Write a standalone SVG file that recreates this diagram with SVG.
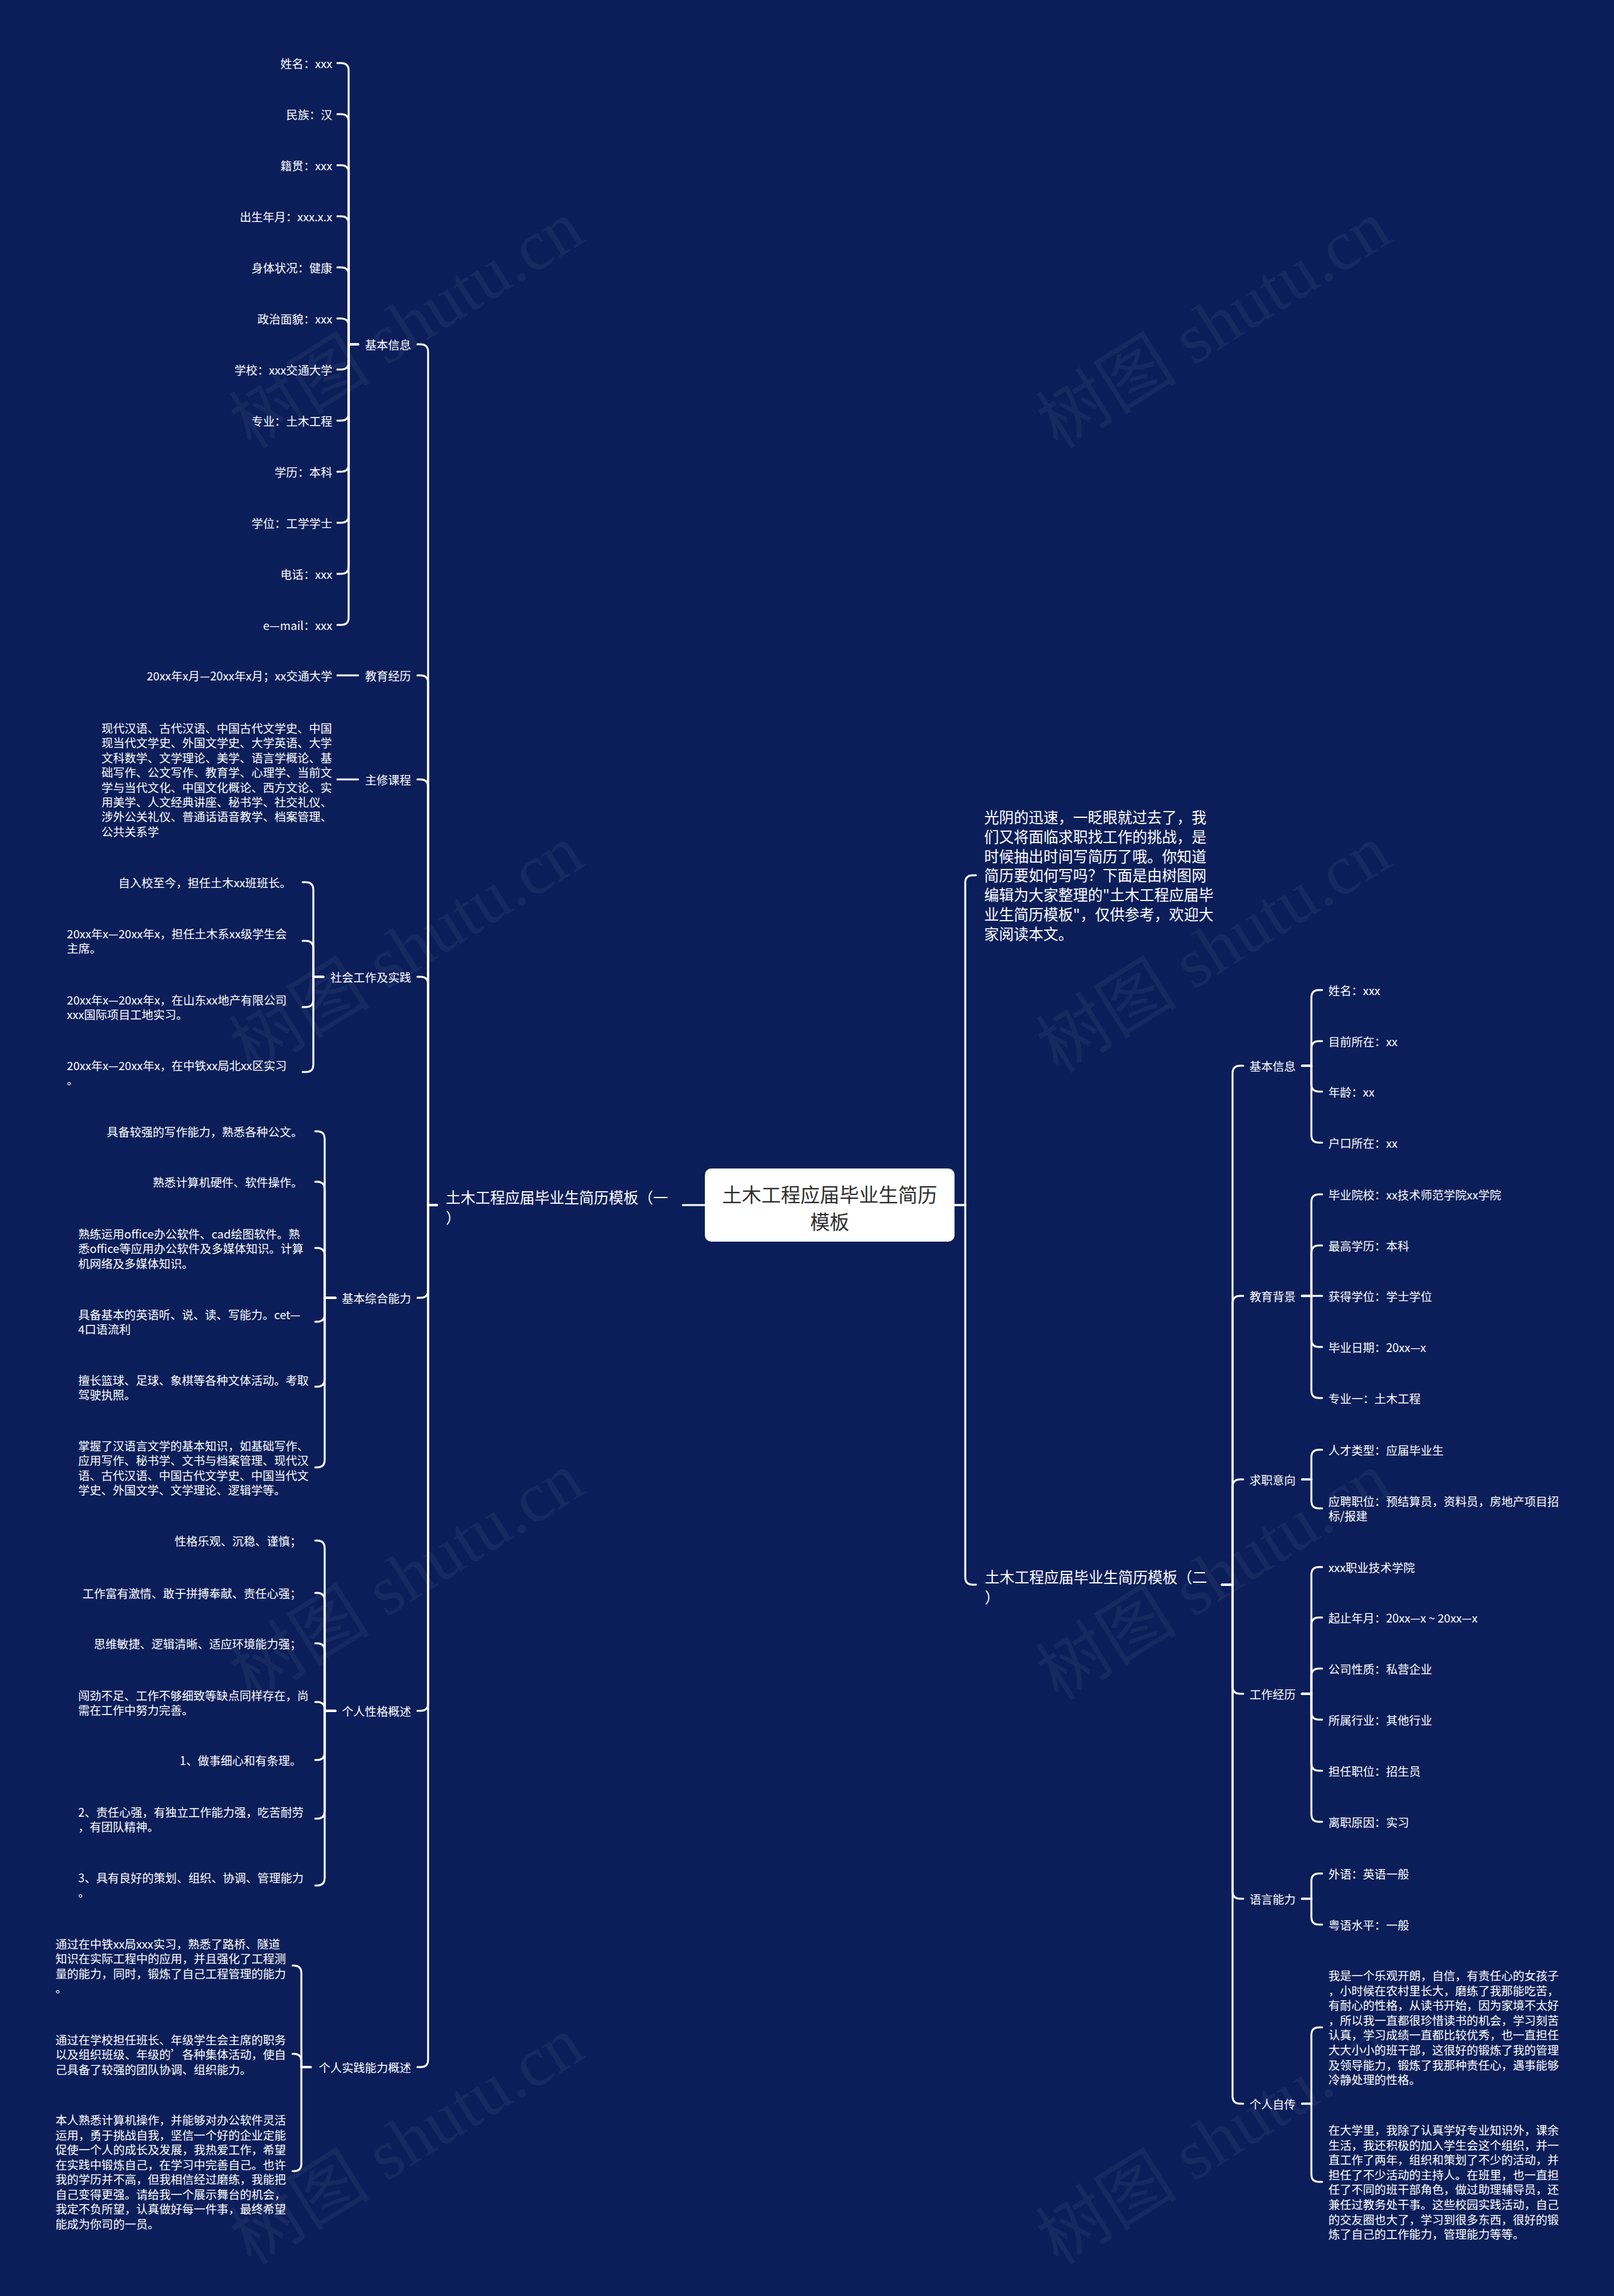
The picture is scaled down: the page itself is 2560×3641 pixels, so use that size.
<svg xmlns="http://www.w3.org/2000/svg" width="2560" height="3641" viewBox="0 0 2560 3641">
<style>
.t{font-family:"Noto Sans CJK SC","Noto Sans",sans-serif;font-size:18.3px;fill:#ffffff;dominant-baseline:central}
.e{text-anchor:end}
.b{font-size:23.5px}
.m{font-size:31px;fill:#2e2e2e;text-anchor:middle}
.c{fill:none;stroke:#ffffff;stroke-width:3;stroke-linecap:round;stroke-linejoin:round}
.wm{font-family:"Liberation Serif","Noto Sans CJK SC",serif;font-size:112px;fill:#ffffff;fill-opacity:0.05;text-anchor:middle;dominant-baseline:central}
</style>
<rect x="0" y="0" width="2560" height="3641" fill="#0b1e59"/>
<g id="watermarks">
<text class="wm" transform="translate(645,515) rotate(-32)">树图 shutu.cn</text>
<text class="wm" transform="translate(1925,515) rotate(-32)">树图 shutu.cn</text>
<text class="wm" transform="translate(645,1505) rotate(-32)">树图 shutu.cn</text>
<text class="wm" transform="translate(1925,1505) rotate(-32)">树图 shutu.cn</text>
<text class="wm" transform="translate(645,2500) rotate(-32)">树图 shutu.cn</text>
<text class="wm" transform="translate(1925,2500) rotate(-32)">树图 shutu.cn</text>
<text class="wm" transform="translate(645,3395) rotate(-32)">树图 shutu.cn</text>
<text class="wm" transform="translate(1925,3395) rotate(-32)">树图 shutu.cn</text>
</g>
<g id="connectors">
<path class="c" d="M1118 1911 H1083"/>
<path class="c" d="M693 1911 H679 V558 Q679 546 667 546 H662"/>
<path class="c" d="M693 1911 H679 V1083 Q679 1071 667 1071 H662"/>
<path class="c" d="M693 1911 H679 V1248 Q679 1236 667 1236 H662"/>
<path class="c" d="M693 1911 H679 V1561 Q679 1549 667 1549 H662"/>
<path class="c" d="M693 1911 H679 V2046 Q679 2058 667 2058 H662"/>
<path class="c" d="M693 1911 H679 V2701 Q679 2713 667 2713 H662"/>
<path class="c" d="M693 1911 H679 V3266 Q679 3278 667 3278 H662"/>
<path class="c" d="M568 546 H553 V112 Q553 100 541 100 H535"/>
<path class="c" d="M568 546 H553 V193 Q553 181 541 181 H535"/>
<path class="c" d="M568 546 H553 V274 Q553 262 541 262 H535"/>
<path class="c" d="M568 546 H553 V355 Q553 343 541 343 H535"/>
<path class="c" d="M568 546 H553 V436 Q553 424 541 424 H535"/>
<path class="c" d="M568 546 H553 V517 Q553 505 541 505 H535"/>
<path class="c" d="M568 546 H553 V574 Q553 586 541 586 H535"/>
<path class="c" d="M568 546 H553 V655 Q553 667 541 667 H535"/>
<path class="c" d="M568 546 H553 V736 Q553 748 541 748 H535"/>
<path class="c" d="M568 546 H553 V817 Q553 829 541 829 H535"/>
<path class="c" d="M568 546 H553 V898 Q553 910 541 910 H535"/>
<path class="c" d="M568 546 H553 V979 Q553 991 541 991 H535"/>
<path class="c" d="M568 1071 H535"/>
<path class="c" d="M568 1236 H535"/>
<path class="c" d="M513 1549 H497 V1411 Q497 1399 485 1399 H480"/>
<path class="c" d="M513 1549 H497 V1504 Q497 1492 485 1492 H480"/>
<path class="c" d="M513 1549 H497 V1585 Q497 1597 485 1597 H480"/>
<path class="c" d="M513 1549 H497 V1688 Q497 1700 485 1700 H480"/>
<path class="c" d="M532 2058 H515 V1806 Q515 1794 503 1794 H500"/>
<path class="c" d="M532 2058 H515 V1886 Q515 1874 503 1874 H500"/>
<path class="c" d="M532 2058 H515 V1991 Q515 1979 503 1979 H500"/>
<path class="c" d="M532 2058 H515 V2084 Q515 2096 503 2096 H500"/>
<path class="c" d="M532 2058 H515 V2187 Q515 2199 503 2199 H500"/>
<path class="c" d="M532 2058 H515 V2315 Q515 2327 503 2327 H500"/>
<path class="c" d="M532 2713 H515 V2455 Q515 2443 503 2443 H500"/>
<path class="c" d="M532 2713 H515 V2538 Q515 2526 503 2526 H500"/>
<path class="c" d="M532 2713 H515 V2618 Q515 2606 503 2606 H500"/>
<path class="c" d="M532 2713 H515 V2711 Q515 2699 503 2699 H500"/>
<path class="c" d="M532 2713 H515 V2779 Q515 2791 503 2791 H500"/>
<path class="c" d="M532 2713 H515 V2872 Q515 2884 503 2884 H500"/>
<path class="c" d="M532 2713 H515 V2978 Q515 2990 503 2990 H500"/>
<path class="c" d="M493 3278 H478 V3129 Q478 3117 466 3117 H464"/>
<path class="c" d="M493 3278 H478 V3269 Q478 3257 466 3257 H464"/>
<path class="c" d="M493 3278 H478 V3431 Q478 3443 466 3443 H464"/>
<path class="c" d="M1514 1911 H1531 V1400 Q1531 1388 1543 1388 H1548"/>
<path class="c" d="M1514 1911 H1531 V2501 Q1531 2513 1543 2513 H1548"/>
<path class="c" d="M1938 2513 H1955 V1702 Q1955 1690 1967 1690 H1972"/>
<path class="c" d="M1938 2513 H1955 V2067 Q1955 2055 1967 2055 H1972"/>
<path class="c" d="M1938 2513 H1955 V2358 Q1955 2346 1967 2346 H1972"/>
<path class="c" d="M1938 2513 H1955 V2674 Q1955 2686 1967 2686 H1972"/>
<path class="c" d="M1938 2513 H1955 V2999 Q1955 3011 1967 3011 H1972"/>
<path class="c" d="M1938 2513 H1955 V3324 Q1955 3336 1967 3336 H1972"/>
<path class="c" d="M2065 1690 H2080 V1582 Q2080 1570 2092 1570 H2097"/>
<path class="c" d="M2065 1690 H2080 V1663 Q2080 1651 2092 1651 H2097"/>
<path class="c" d="M2065 1690 H2080 V1719 Q2080 1731 2092 1731 H2097"/>
<path class="c" d="M2065 1690 H2080 V1800 Q2080 1812 2092 1812 H2097"/>
<path class="c" d="M2065 2055 H2080 V1906 Q2080 1894 2092 1894 H2097"/>
<path class="c" d="M2065 2055 H2080 V1987 Q2080 1975 2092 1975 H2097"/>
<path class="c" d="M2065 2055 H2097"/>
<path class="c" d="M2065 2055 H2080 V2124 Q2080 2136 2092 2136 H2097"/>
<path class="c" d="M2065 2055 H2080 V2205 Q2080 2217 2092 2217 H2097"/>
<path class="c" d="M2065 2346 H2080 V2311 Q2080 2299 2092 2299 H2097"/>
<path class="c" d="M2065 2346 H2080 V2380 Q2080 2392 2092 2392 H2097"/>
<path class="c" d="M2065 2686 H2080 V2497 Q2080 2485 2092 2485 H2097"/>
<path class="c" d="M2065 2686 H2080 V2577 Q2080 2565 2092 2565 H2097"/>
<path class="c" d="M2065 2686 H2080 V2658 Q2080 2646 2092 2646 H2097"/>
<path class="c" d="M2065 2686 H2080 V2715 Q2080 2727 2092 2727 H2097"/>
<path class="c" d="M2065 2686 H2080 V2796 Q2080 2808 2092 2808 H2097"/>
<path class="c" d="M2065 2686 H2080 V2877 Q2080 2889 2092 2889 H2097"/>
<path class="c" d="M2065 3011 H2080 V2983 Q2080 2971 2092 2971 H2097"/>
<path class="c" d="M2065 3011 H2080 V3040 Q2080 3052 2092 3052 H2097"/>
<path class="c" d="M2065 3336 H2080 V3227 Q2080 3215 2092 3215 H2097"/>
<path class="c" d="M2065 3336 H2080 V3448 Q2080 3460 2092 3460 H2097"/>
</g>
<g id="root">
<rect x="1118" y="1853" width="396" height="116" rx="10" fill="#ffffff"/>
<text class="t m" x="1316" y="1892">土木工程应届毕业生简历</text>
<text class="t m" x="1316" y="1935">模板</text>
</g>
<g id="branch1"><text class="t b" x="707" y="1898">土木工程应届毕业生简历模板（一</text><text class="t b" x="707" y="1930">）</text></g>
<g id="l-basic"><text class="t e" x="652" y="546">基本信息</text></g>
<g id="l-basic-1"><text class="t e" x="527" y="100">姓名：xxx</text></g>
<g id="l-basic-2"><text class="t e" x="527" y="181">民族：汉</text></g>
<g id="l-basic-3"><text class="t e" x="527" y="262">籍贯：xxx</text></g>
<g id="l-basic-4"><text class="t e" x="527" y="343">出生年月：xxx.x.x</text></g>
<g id="l-basic-5"><text class="t e" x="527" y="424">身体状况：健康</text></g>
<g id="l-basic-6"><text class="t e" x="527" y="505">政治面貌：xxx</text></g>
<g id="l-basic-7"><text class="t e" x="527" y="586">学校：xxx交通大学</text></g>
<g id="l-basic-8"><text class="t e" x="527" y="667">专业：土木工程</text></g>
<g id="l-basic-9"><text class="t e" x="527" y="748">学历：本科</text></g>
<g id="l-basic-10"><text class="t e" x="527" y="829">学位：工学学士</text></g>
<g id="l-basic-11"><text class="t e" x="527" y="910">电话：xxx</text></g>
<g id="l-basic-12"><text class="t e" x="527" y="991">e—mail：xxx</text></g>
<g id="l-edu"><text class="t e" x="652" y="1071">教育经历</text></g>
<g id="l-edu-1"><text class="t e" x="527" y="1071">20xx年x月—20xx年x月；xx交通大学</text></g>
<g id="l-course"><text class="t e" x="652" y="1236">主修课程</text></g>
<g id="l-course-1"><text class="t">
<tspan x="161" y="1154">现代汉语、古代汉语、中国古代文学史、中国</tspan>
<tspan x="161" y="1177.4">现当代文学史、外国文学史、大学英语、大学</tspan>
<tspan x="161" y="1200.8">文科数学、文学理论、美学、语言学概论、基</tspan>
<tspan x="161" y="1224.2">础写作、公文写作、教育学、心理学、当前文</tspan>
<tspan x="161" y="1247.6">学与当代文化、中国文化概论、西方文论、实</tspan>
<tspan x="161" y="1271">用美学、人文经典讲座、秘书学、社交礼仪、</tspan>
<tspan x="161" y="1294.4">涉外公关礼仪、普通话语音教学、档案管理、</tspan>
<tspan x="161" y="1317.8">公共关系学</tspan></text></g>
<g id="l-social"><text class="t e" x="652" y="1549">社会工作及实践</text></g>
<g id="l-social-1"><text class="t e" x="462" y="1399">自入校至今，担任土木xx班班长。</text></g>
<g id="l-social-2"><text class="t"><tspan x="106" y="1480">20xx年x—20xx年x，担任土木系xx级学生会</tspan><tspan x="106" y="1503.4">主席。</tspan></text></g>
<g id="l-social-3"><text class="t"><tspan x="106" y="1585">20xx年x—20xx年x，在山东xx地产有限公司</tspan><tspan x="106" y="1608.4">xxx国际项目工地实习。</tspan></text></g>
<g id="l-social-4"><text class="t"><tspan x="106" y="1689">20xx年x—20xx年x，在中铁xx局北xx区实习</tspan><tspan x="106" y="1712.4">。</tspan></text></g>
<g id="l-ability"><text class="t e" x="652" y="2058">基本综合能力</text></g>
<g id="l-ability-1"><text class="t e" x="480" y="1794">具备较强的写作能力，熟悉各种公文。</text></g>
<g id="l-ability-2"><text class="t e" x="480" y="1874">熟悉计算机硬件、软件操作。</text></g>
<g id="l-ability-3"><text class="t"><tspan x="124" y="1956">熟练运用office办公软件、cad绘图软件。熟</tspan><tspan x="124" y="1979.4">悉office等应用办公软件及多媒体知识。计算</tspan><tspan x="124" y="2002.8">机网络及多媒体知识。</tspan></text></g>
<g id="l-ability-4"><text class="t"><tspan x="124" y="2084">具备基本的英语听、说、读、写能力。cet—</tspan><tspan x="124" y="2107.4">4口语流利</tspan></text></g>
<g id="l-ability-5"><text class="t"><tspan x="124" y="2188">擅长篮球、足球、象棋等各种文体活动。考取</tspan><tspan x="124" y="2211.4">驾驶执照。</tspan></text></g>
<g id="l-ability-6"><text class="t"><tspan x="124" y="2292">掌握了汉语言文学的基本知识，如基础写作、</tspan><tspan x="124" y="2315.4">应用写作、秘书学、文书与档案管理、现代汉</tspan><tspan x="124" y="2338.8">语、古代汉语、中国古代文学史、中国当代文</tspan><tspan x="124" y="2362.2">学史、外国文学、文学理论、逻辑学等。</tspan></text></g>
<g id="l-person"><text class="t e" x="652" y="2713">个人性格概述</text></g>
<g id="l-person-1"><text class="t e" x="478" y="2443">性格乐观、沉稳、谨慎；</text></g>
<g id="l-person-2"><text class="t e" x="478" y="2526">工作富有激情、敢于拼搏奉献、责任心强；</text></g>
<g id="l-person-3"><text class="t e" x="478" y="2606">思维敏捷、逻辑清晰、适应环境能力强；</text></g>
<g id="l-person-4"><text class="t"><tspan x="124" y="2688">闯劲不足、工作不够细致等缺点同样存在，尚</tspan><tspan x="124" y="2711.4">需在工作中努力完善。</tspan></text></g>
<g id="l-person-5"><text class="t e" x="478" y="2791">1、做事细心和有条理。</text></g>
<g id="l-person-6"><text class="t"><tspan x="124" y="2873">2、责任心强，有独立工作能力强，吃苦耐劳</tspan><tspan x="124" y="2896.4">，有团队精神。</tspan></text></g>
<g id="l-person-7"><text class="t"><tspan x="124" y="2977">3、具有良好的策划、组织、协调、管理能力</tspan><tspan x="124" y="3000.4">。</tspan></text></g>
<g id="l-practice"><text class="t e" x="652" y="3278">个人实践能力概述</text></g>
<g id="l-practice-1"><text class="t"><tspan x="88" y="3082">通过在中铁xx局xxx实习，熟悉了路桥、隧道</tspan><tspan x="88" y="3105.4">知识在实际工程中的应用，并且强化了工程测</tspan><tspan x="88" y="3128.8">量的能力，同时，锻炼了自己工程管理的能力</tspan><tspan x="88" y="3152.2">。</tspan></text></g>
<g id="l-practice-2"><text class="t"><tspan x="88" y="3234">通过在学校担任班长、年级学生会主席的职务</tspan><tspan x="88" y="3257.4">以及组织班级、年级的’各种集体活动，使自</tspan><tspan x="88" y="3280.8">己具备了较强的团队协调、组织能力。</tspan></text></g>
<g id="l-practice-3"><text class="t"><tspan x="88" y="3361">本人熟悉计算机操作，并能够对办公软件灵活</tspan><tspan x="88" y="3384.5">运用，勇于挑战自我，坚信一个好的企业定能</tspan><tspan x="88" y="3408">促使一个人的成长及发展，我热爱工作，希望</tspan><tspan x="88" y="3431.5">在实践中锻炼自己，在学习中完善自己。也许</tspan><tspan x="88" y="3455">我的学历并不高，但我相信经过磨练，我能把</tspan><tspan x="88" y="3478.5">自己变得更强。请给我一个展示舞台的机会，</tspan><tspan x="88" y="3502">我定不负所望，认真做好每一件事，最终希望</tspan><tspan x="88" y="3525.5">能成为你司的一员。</tspan></text></g>
<g id="intro"><text class="t b"><tspan x="1561" y="1295">光阴的迅速，一眨眼就过去了，我</tspan><tspan x="1561" y="1325.8">们又将面临求职找工作的挑战，是</tspan><tspan x="1561" y="1356.6">时候抽出时间写简历了哦。你知道</tspan><tspan x="1561" y="1387.4">简历要如何写吗？下面是由树图网</tspan><tspan x="1561" y="1418.2">编辑为大家整理的"土木工程应届毕</tspan><tspan x="1561" y="1449">业生简历模板"，仅供参考，欢迎大</tspan><tspan x="1561" y="1479.8">家阅读本文。</tspan></text></g>
<g id="branch2"><text class="t b" x="1562" y="2500">土木工程应届毕业生简历模板（二</text><text class="t b" x="1562" y="2532">）</text></g>
<g id="r-basic"><text class="t" x="1982" y="1690">基本信息</text></g>
<g id="r-basic-1"><text class="t" x="2107" y="1570">姓名：xxx</text></g>
<g id="r-basic-2"><text class="t" x="2107" y="1651">目前所在：xx</text></g>
<g id="r-basic-3"><text class="t" x="2107" y="1731">年龄：xx</text></g>
<g id="r-basic-4"><text class="t" x="2107" y="1812">户口所在：xx</text></g>
<g id="r-edu"><text class="t" x="1982" y="2055">教育背景</text></g>
<g id="r-edu-1"><text class="t" x="2107" y="1894">毕业院校：xx技术师范学院xx学院</text></g>
<g id="r-edu-2"><text class="t" x="2107" y="1975">最高学历：本科</text></g>
<g id="r-edu-3"><text class="t" x="2107" y="2055">获得学位：学士学位</text></g>
<g id="r-edu-4"><text class="t" x="2107" y="2136">毕业日期：20xx—x</text></g>
<g id="r-edu-5"><text class="t" x="2107" y="2217">专业一：土木工程</text></g>
<g id="r-job"><text class="t" x="1982" y="2346">求职意向</text></g>
<g id="r-job-1"><text class="t" x="2107" y="2299">人才类型：应届毕业生</text></g>
<g id="r-job-2"><text class="t"><tspan x="2107" y="2380">应聘职位：预结算员，资料员，房地产项目招</tspan><tspan x="2107" y="2403.4">标/报建</tspan></text></g>
<g id="r-work"><text class="t" x="1982" y="2686">工作经历</text></g>
<g id="r-work-1"><text class="t" x="2107" y="2485">xxx职业技术学院</text></g>
<g id="r-work-2"><text class="t" x="2107" y="2565">起止年月：20xx—x ~ 20xx—x</text></g>
<g id="r-work-3"><text class="t" x="2107" y="2646">公司性质：私营企业</text></g>
<g id="r-work-4"><text class="t" x="2107" y="2727">所属行业：其他行业</text></g>
<g id="r-work-5"><text class="t" x="2107" y="2808">担任职位：招生员</text></g>
<g id="r-work-6"><text class="t" x="2107" y="2889">离职原因：实习</text></g>
<g id="r-lang"><text class="t" x="1982" y="3011">语言能力</text></g>
<g id="r-lang-1"><text class="t" x="2107" y="2971">外语：英语一般</text></g>
<g id="r-lang-2"><text class="t" x="2107" y="3052">粤语水平：一般</text></g>
<g id="r-self"><text class="t" x="1982" y="3336">个人自传</text></g>
<g id="r-self-1"><text class="t"><tspan x="2107" y="3132">我是一个乐观开朗，自信，有责任心的女孩子</tspan><tspan x="2107" y="3155.6">，小时候在农村里长大，磨练了我那能吃苦，</tspan><tspan x="2107" y="3179.2">有耐心的性格，从读书开始，因为家境不太好</tspan><tspan x="2107" y="3202.8">，所以我一直都很珍惜读书的机会，学习刻苦</tspan><tspan x="2107" y="3226.4">认真，学习成绩一直都比较优秀，也一直担任</tspan><tspan x="2107" y="3250">大大小小的班干部，这很好的锻炼了我的管理</tspan><tspan x="2107" y="3273.6">及领导能力，锻炼了我那种责任心，遇事能够</tspan><tspan x="2107" y="3297.2">冷静处理的性格。</tspan></text></g>
<g id="r-self-2"><text class="t"><tspan x="2107" y="3377">在大学里，我除了认真学好专业知识外，课余</tspan><tspan x="2107" y="3400.6">生活，我还积极的加入学生会这个组织，并一</tspan><tspan x="2107" y="3424.2">直工作了两年，组织和策划了不少的活动，并</tspan><tspan x="2107" y="3447.8">担任了不少活动的主持人。在班里，也一直担</tspan><tspan x="2107" y="3471.4">任了不同的班干部角色，做过助理辅导员，还</tspan><tspan x="2107" y="3495">兼任过教务处干事。这些校园实践活动，自己</tspan><tspan x="2107" y="3518.6">的交友圈也大了，学习到很多东西，很好的锻</tspan><tspan x="2107" y="3542.2">炼了自己的工作能力，管理能力等等。</tspan></text></g>
</svg>
